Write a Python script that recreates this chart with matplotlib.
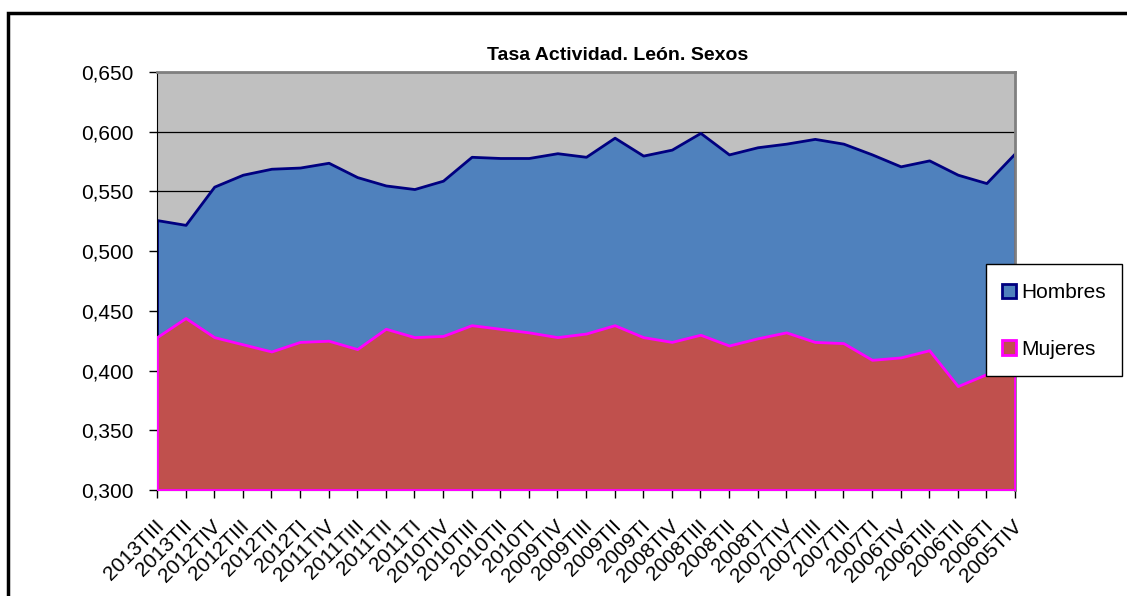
import numpy as np
import matplotlib.pyplot as plt
from matplotlib.patches import Patch, Rectangle
from matplotlib.ticker import FuncFormatter
from matplotlib.transforms import ScaledTranslation

plt.rcParams['font.family'] = ['Liberation Sans Narrow', 'Liberation Sans', 'DejaVu Sans']

# Quarters (newest first, as in the source sheet)
periodos = ['2013TIII', '2013TII', '2012TIV', '2012TIII', '2012TII', '2012TI',
            '2011TIV', '2011TIII', '2011TII', '2011TI', '2010TIV', '2010TIII',
            '2010TII', '2010TI', '2009TIV', '2009TIII', '2009TII', '2009TI',
            '2008TIV', '2008TIII', '2008TII', '2008TI', '2007TIV', '2007TIII',
            '2007TII', '2007TI', '2006TIV', '2006TIII', '2006TII', '2006TI',
            '2005TIV']

hombres = [0.526, 0.522, 0.554, 0.564, 0.569, 0.570, 0.574, 0.562, 0.555, 0.552,
           0.559, 0.579, 0.578, 0.578, 0.582, 0.579, 0.595, 0.580, 0.585, 0.599,
           0.581, 0.587, 0.590, 0.594, 0.590, 0.581, 0.571, 0.576, 0.564, 0.557,
           0.582]
mujeres = [0.428, 0.444, 0.428, 0.422, 0.416, 0.424, 0.425, 0.418, 0.435, 0.428,
           0.429, 0.438, 0.435, 0.432, 0.428, 0.431, 0.438, 0.428, 0.424, 0.430,
           0.421, 0.427, 0.432, 0.424, 0.423, 0.409, 0.411, 0.417, 0.387, 0.397,
           0.400]

x = np.arange(len(periodos))

fig = plt.figure(figsize=(11.27, 5.96), dpi=100)
ax = fig.add_axes([157 / 1127, 1 - 490 / 596, 858 / 1127, 418 / 596])
ax.set_facecolor('#C0C0C0')

ax.fill_between(x, 0.3, hombres, facecolor='#4F81BD', edgecolor='#000080',
                linewidth=2, zorder=2, label='Hombres')
ax.fill_between(x, 0.3, mujeres, facecolor='#C0504D', edgecolor='#FF00FF',
                linewidth=2, zorder=3, label='Mujeres')

ax.set_xlim(0, len(periodos) - 1)
ax.set_ylim(0.3, 0.65)
ax.set_yticks(np.arange(0.30, 0.651, 0.05))
ax.yaxis.set_major_formatter(FuncFormatter(lambda v, p: f'{v:.3f}'.replace('.', ',')))
ax.grid(axis='y', color='black', linewidth=0.9, zorder=1)
ax.set_axisbelow(True)

ax.set_xticks(x)
ax.set_xticklabels(periodos, rotation=45, ha='right', va='top', rotation_mode='anchor')
ax.tick_params(axis='both', labelsize=15, length=6, width=1, color='black', direction='out')
ax.tick_params(axis='x', pad=13)
ax.tick_params(axis='y', pad=11)
shift = ScaledTranslation(-3 / 100, 0, fig.dpi_scale_trans)
for lbl in ax.get_xticklabels():
    lbl.set_transform(lbl.get_transform() + shift)

for s in ['top', 'right']:
    ax.spines[s].set_color('#808080')
    ax.spines[s].set_linewidth(2)
ax.spines['left'].set_color('black')
ax.spines['bottom'].set_color('black')

fig.text(618 / 1127, 1 - 56 / 596, 'Tasa Actividad. León. Sexos', ha='center', va='center',
         fontsize=14, fontweight='bold')

# legend box drawn by hand so its size matches the original
fig.add_artist(Rectangle((986 / 1127, 1 - 376 / 596), 136 / 1127, 112 / 596,
                         transform=fig.transFigure, facecolor='white',
                         edgecolor='black', linewidth=1, zorder=5))
handles = [Patch(facecolor='#4F81BD', edgecolor='#000080', linewidth=2),
           Patch(facecolor='#C0504D', edgecolor='#FF00FF', linewidth=2)]
leg = fig.legend(handles, ['Hombres', 'Mujeres'], loc='center',
                 bbox_to_anchor=(1054 / 1127, 1 - 321 / 596), fontsize=15,
                 frameon=False, handlelength=0.7, handleheight=0.7,
                 handletextpad=0.25, labelspacing=1.8, borderpad=0, borderaxespad=0)
leg.set_zorder(6)

fig.add_artist(Rectangle((8 / 1127, -0.1), 1.2, 1 - 13 / 596 + 0.1, transform=fig.transFigure,
                         fill=False, edgecolor='black', linewidth=2.5))

fig.savefig('out.png', dpi=100)
